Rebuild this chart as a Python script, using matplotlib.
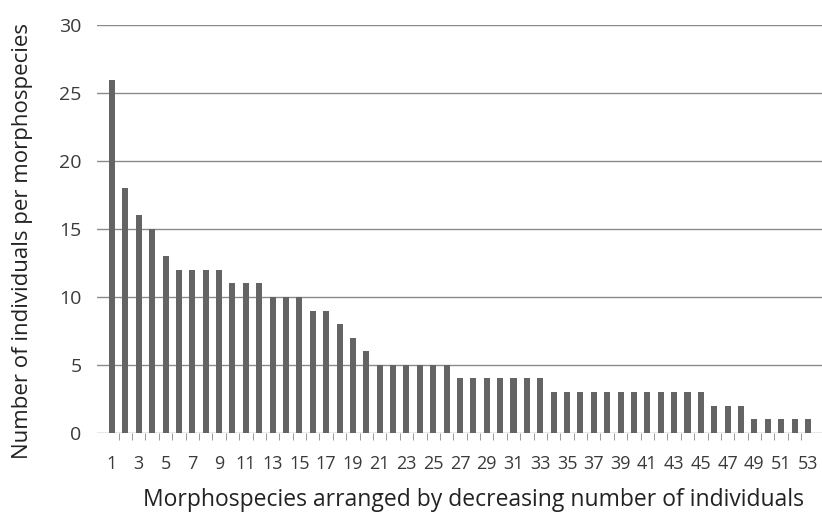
import matplotlib.pyplot as plt
import numpy as np

plt.rcParams['font.family'] = ['Open Sans', 'DejaVu Sans']

# individuals per morphospecies, ranked
counts = [26, 18, 16, 15, 13, 12, 12, 12, 12, 11, 11, 11, 10, 10, 10, 9, 9, 8, 7, 6,
          5, 5, 5, 5, 5, 5,
          4, 4, 4, 4, 4, 4, 4,
          3, 3, 3, 3, 3, 3, 3, 3, 3, 3, 3, 3,
          2, 2, 2,
          1, 1, 1, 1, 1]
ranks = np.arange(1, len(counts) + 1)
tick_labels = [str(r) for r in ranks[::2]]

fig = plt.figure(figsize=(8.22, 5.14), dpi=100)
ax = fig.add_axes([0.118, 0.158, 0.882, 0.793])

ax.bar(ranks, counts, width=0.45, color='#646464', zorder=3)

ax.set_ylim(0, 30)
ax.set_xlim(-0.12, 54.05)
ax.set_yticks(range(0, 31, 5))
ax.yaxis.grid(True, color='#8a8a8a', linewidth=1.0, zorder=0)
ax.set_xticks(ranks[::2])
ax.set_xticklabels(tick_labels, fontsize=13, color='#3a3a3a')
ax.set_xticks(ranks[:-1] + 0.5, minor=True)
ax.tick_params(axis='x', which='major', length=0, pad=16)
ax.tick_params(axis='x', which='minor', length=5, color='#8a8a8a', direction='out')
ax.tick_params(axis='y', length=0, pad=11, labelsize=14, labelcolor='#3a3a3a')
for s in ax.spines.values():
    s.set_visible(False)

ax.set_xlabel('Morphospecies arranged by decreasing number of individuals',
              fontsize=16.5, color='#222222')
ax.xaxis.set_label_coords(0.52, -0.136)
ax.set_ylabel('Number of individuals per morphospecies',
              fontsize=16, color='#222222')
ax.yaxis.set_label_coords(-0.088, 0.47)

fig.savefig('out.png', dpi=100)
